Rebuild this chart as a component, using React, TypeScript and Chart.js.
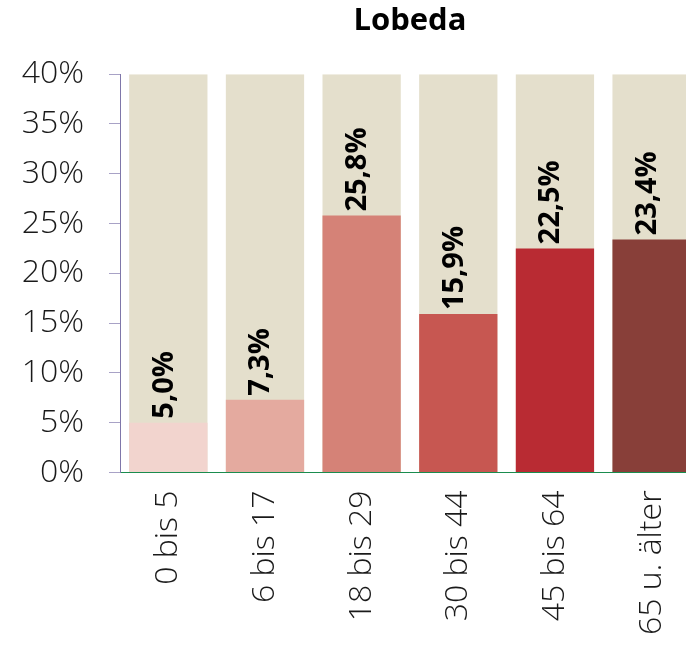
import React, { useEffect, useRef } from "react";
import { Chart, registerables } from "chart.js";

Chart.register(...registerables);

const categories = ["0 bis 5", "6 bis 17", "18 bis 29", "30 bis 44", "45 bis 64", "65 u. älter"];
const values = [5.0, 7.3, 25.8, 15.9, 22.5, 23.4];
const backgroundValues = [40, 40, 40, 40, 40, 40];
const barColors = ["#f2d4ce", "#e4aa9f", "#d58277", "#c75751", "#b92b33", "#883f39"];
const yTicks = [0, 5, 10, 15, 20, 25, 30, 35, 40];
const title = "Lobeda";

const labelPlugin = {
  id: "valueLabels",
  afterDatasetsDraw(chart: any) {
    const ctx = chart.ctx;
    const meta = chart.getDatasetMeta(0);
    ctx.save();
    ctx.font = "bold 29px 'Open Sans'";
    ctx.fillStyle = "#000";
    ctx.textAlign = "left";
    ctx.textBaseline = "middle";
    meta.data.forEach((bar: any, i: number) => {
      const text = values[i].toFixed(1).replace(".", ",") + "%";
      ctx.save();
      ctx.translate(bar.x - 4, bar.y - 4);
      ctx.rotate(-Math.PI / 2);
      ctx.fillText(text, 0, 0);
      ctx.restore();
    });
    ctx.restore();
  },
};

export default function App() {
  const ref = useRef<HTMLCanvasElement>(null);
  useEffect(() => {
    if (!ref.current) return;
    const chart = new Chart(ref.current, {
      type: "bar",
      data: {
        labels: categories,
        datasets: [
          {
            data: values,
            backgroundColor: barColors,
            barPercentage: 0.81,
            categoryPercentage: 1,
            grouped: false,
          },
          {
            data: backgroundValues,
            backgroundColor: "#e4dfcc",
            barPercentage: 0.81,
            categoryPercentage: 1,
            grouped: false,
          },
        ],
      },
      options: {
        responsive: false,
        animation: false,
        layout: { padding: { left: 0, right: 0, top: 0, bottom: 2 } },
        plugins: {
          legend: { display: false },
          tooltip: { enabled: false },
          title: {
            display: true,
            text: title,
            fullSize: false,
            color: "#000",
            font: { family: "'Open Sans'", size: 31, weight: "bold" },
            padding: { top: 3, bottom: 34 },
          },
        },
        scales: {
          x: {
            grid: { display: false },
            border: { display: true, color: "#1a8c4e", width: 1 },
            ticks: {
              maxRotation: 90,
              minRotation: 90,
              padding: 10,
              color: "#1a1a1a",
              font: { family: "'Open Sans'", size: 32, weight: "300" },
            },
          },
          y: {
            min: 0,
            max: 40,
            afterBuildTicks: (axis: any) => {
              axis.ticks = yTicks.map((v) => ({ value: v }));
            },
            afterFit: (axis: any) => {
              axis.width = 120;
            },
            grid: {
              drawOnChartArea: false,
              tickLength: 11,
              color: "#a8a2c6",
            },
            border: { display: true, color: "#7f77aa", width: 1 },
            ticks: {
              padding: 25,
              color: "#1a1a1a",
              font: { family: "'Open Sans'", size: 32, weight: "300" },
              callback: (v: any) => v + "%",
            },
          },
        },
      },
      plugins: [labelPlugin],
    });
    return () => chart.destroy();
  }, []);
  return (
    <div style={{ position: "fixed", left: 0, top: 0, width: 686, height: 647, overflow: "hidden", background: "#fff" }}>
      <canvas ref={ref} width={700} height={647} style={{ display: "block" }} />
    </div>
  );
}
